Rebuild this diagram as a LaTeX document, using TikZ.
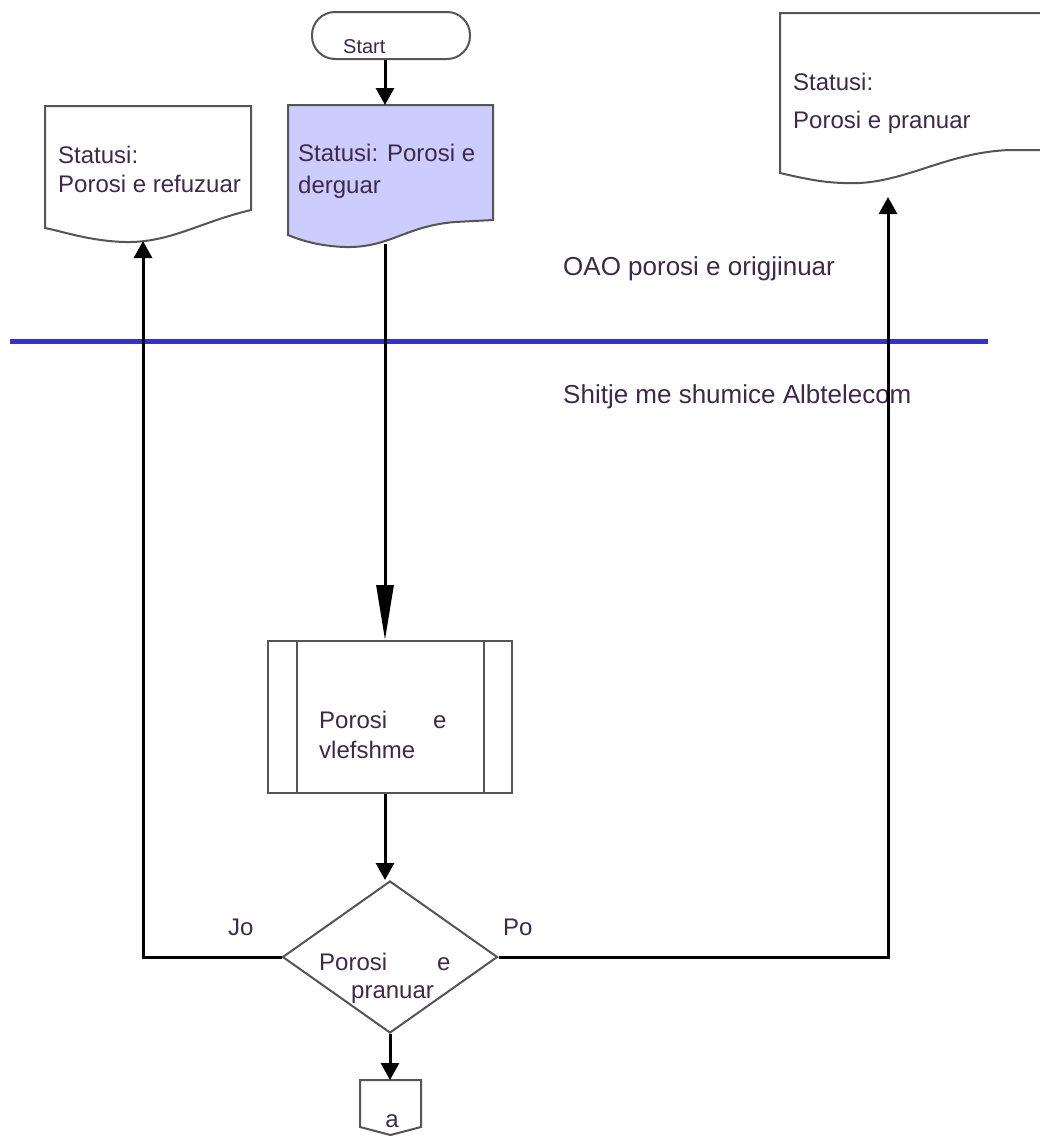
\documentclass[tikz,border=0pt]{standalone}
\usepackage{fontspec}
\setmainfont{Liberation Sans}
\usetikzlibrary{arrows.meta,shapes.geometric}
\definecolor{txt}{RGB}{62,42,72}
\definecolor{lav}{RGB}{204,204,255}
\definecolor{lane}{RGB}{50,50,200}
\definecolor{edgec}{RGB}{85,85,85}
\begin{document}
\begin{tikzpicture}[x=1pt,y=-1pt,
  shp/.style={draw=edgec,line width=2pt},
  conn/.style={line width=3pt,-{Triangle[length=17pt,width=18pt]}},
  bigconn/.style={line width=3pt,-{Triangle[length=55pt,width=17pt]}},
  lbl/.style={anchor=base west,inner sep=0pt,text=txt,font=\fontsize{24}{28}\selectfont},
  biglbl/.style={lbl,font=\fontsize{26}{30}\selectfont},
]
\useasboundingbox (0,0) rectangle (1040,1136);
\fill[white] (0,0) rectangle (1040,1136);

% lane separator
\draw[lane,line width=5pt] (10,341) -- (988,341);
\node[biglbl] (laneA) at (563,275) {OAO porosi e origjinuar};
\node[biglbl] (laneB) at (563,403) {Shitje me shumice Albtelecom};

% start terminal
\node[shp,rectangle,rounded corners=23pt,minimum width=158pt,minimum height=47pt,inner sep=0pt] (start) at (391,35.5) {};
\node[lbl,font=\fontsize{20}{24}\selectfont] (startT) at (343,53) {Start};

% sent document (blue)
\path[shp,fill=lav] (288,105) -- (493,105) -- (493,220) -- (455,222)
  .. controls (405,226) and (390,248) .. (345,247)
  .. controls (318,246) and (300,240) .. (288,235) -- cycle;
\coordinate (bdtop) at (385,105);
\coordinate (bdbot) at (385,244);
\node[lbl] (bd1) at (298,161) {Statusi: Porosi e};
\node[lbl] (bd2) at (298,193) {derguar};

% refused document (left)
\path[shp,fill=white] (45,106) -- (251,106) -- (251,210)
  .. controls (200,222) and (170,243) .. (125,242)
  .. controls (90,241) and (65,232) .. (45,228) -- cycle;
\coordinate (ldbot) at (143,241);
\node[lbl] (ld1) at (58,163) {Statusi:};
\node[lbl] (ld2) at (58,192) {Porosi e refuzuar};

% accepted document (right, cut at the edge)
\path[shp,fill=white] (1041,13) -- (780,13) -- (780,173)
  .. controls (810,180) and (830,184) .. (860,183)
  .. controls (910,180) and (950,152) .. (1010,150) -- (1041,150);
\coordinate (rdbot) at (888,197);
\node[lbl] (rd1) at (793,90) {Statusi:};
\node[lbl] (rd2) at (793,128) {Porosi e pranuar};

% predefined process
\node[shp,rectangle,minimum width=244pt,minimum height=152pt,inner sep=0pt] (proc) at (390,717) {};
\draw[shp] ([xshift=30pt]proc.north west) -- ([xshift=30pt]proc.south west);
\draw[shp] ([xshift=-29pt]proc.north east) -- ([xshift=-29pt]proc.south east);
\node[lbl] (pr1) at (319,728) {Porosi};
\node[lbl] (pr1e) at (433,728) {e};
\node[lbl] (pr2) at (319,758) {vlefshme};

% decision
\node[shp,diamond,minimum width=215pt,minimum height=152pt,inner sep=0pt] (dec) at (390,957) {};
\node[lbl] (de1) at (319,970) {Porosi};
\node[lbl] (de1e) at (437,970) {e};
\node[lbl] (de2) at (351,998) {pranuar};

% off-page connector
\path[shp,fill=white] (360,1080) -- (421,1080) -- (421,1127) -- (390.5,1135) -- (360,1127) -- cycle;
\coordinate (offtop) at (390,1080);
\node[lbl,anchor=base] (offT) at (392,1127) {a};

% connectors
\coordinate (cx) at (385,0);
\draw[conn] (start.south -| cx) -- (bdtop);
\draw[bigconn] (bdbot) -- (proc.north -| cx);
\draw[conn] (proc.south -| cx) -- (dec.north -| cx);
\draw[conn] (dec.south) -- (offtop);
\draw[conn] (dec.west) -| (ldbot);
\draw[conn] (dec.east) -| (rdbot);
\node[lbl] (jo) at (228,935) {Jo};
\node[lbl] (po) at (503,935) {Po};
\end{tikzpicture}
\end{document}
